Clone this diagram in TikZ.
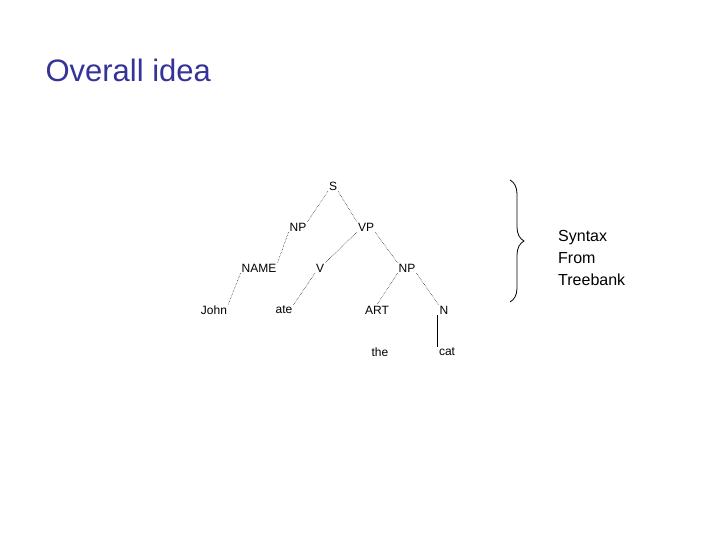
\documentclass[tikz,border=0pt]{standalone}
\usepackage{fontspec}
\setmainfont{Liberation Sans}
\usetikzlibrary{decorations.pathreplacing}
\definecolor{titleblue}{RGB}{51,51,153}
\begin{document}
\begin{tikzpicture}[x=1pt,y=-1pt,
  lab/.style={font=\fontsize{12}{14}\selectfont,inner sep=1pt},
  edge/.style={densely dotted,line width=0.5pt}]
\useasboundingbox (0,0) rectangle (720,540);
\node[anchor=west,text=titleblue,font=\fontsize{31}{36}\selectfont] (title) at (42,70) {Overall idea};
\node[lab] (S) at (333,186) {S};
\node[lab] (NP) at (298,227) {NP};
\node[lab] (VP) at (366,227) {VP};
\node[lab] (NAME) at (259,268) {NAME};
\node[lab] (V) at (320,268) {V};
\node[lab] (NP2) at (407,268) {NP};
\node[lab] (John) at (214,310) {John};
\node[lab] (ate) at (284,310) {ate};
\node[lab] (ART) at (377,310) {ART};
\node[lab] (N) at (444,310) {N};
\node[lab] (the) at (380,352) {the};
\node[lab] (cat) at (447,352) {cat};
\draw[edge] (S.south west) -- (NP.north east);
\draw[edge] (S.south east) -- (VP.north west);
\draw[edge] (NP.south west) -- (NAME.north east);
\draw[edge] (VP.south west) -- (V.north east);
\draw[edge] (VP.south east) -- (NP2.north west);
\draw[edge] (NAME.south west) -- (John.north east);
\draw[edge] (V.south west) -- (ate.north east);
\draw[edge] (NP2.south west) -- (ART.north);
\draw[edge] (NP2.south east) -- (N.north west);
\draw[line width=0.6pt] ([xshift=-7pt]N.south) -- ([xshift=-10pt]cat.north);
\coordinate (bt) at (510,180);
\coordinate (bb) at (510,302);
\draw[line width=0.8pt,decorate,decoration={brace,amplitude=14pt}] (bt) -- (bb);
\node[anchor=north west,align=left,font=\fontsize{16}{22}\selectfont,inner sep=0pt] (txt) at (558,230) {Syntax\\From\\Treebank};
\end{tikzpicture}
\end{document}
